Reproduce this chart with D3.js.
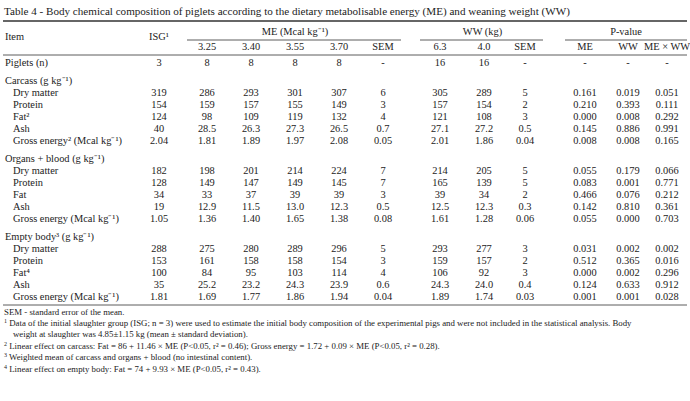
<!DOCTYPE html>
<html><head><meta charset="utf-8">
<script src="https://cdn.jsdelivr.net/npm/d3@7"></script>
<style>body{margin:0;background:#fff}text{font-family:"Liberation Serif","Times New Roman",serif;fill:#222}</style>
</head><body><svg id="c" width="690" height="401"></svg>
<script>
const title = "Table 4 - Body chemical composition of piglets according to the dietary metabolisable energy (ME) and weaning weight (WW)";
const columns = ["ISG","3.25","3.40","3.55","3.70","SEM","6.3","4.0","SEM","ME","WW","ME × WW"];
const groupHeaders = [["ME (Mcal kg⁻¹)",1,5],["WW (kg)",6,8],["P-value",9,11]];
const pigletsRow = ["3","8","8","8","8","-","16","16","-","-","-","-"];
const sections = ["Carcass (g kg⁻¹)","Organs + blood (g kg⁻¹)","Empty body³ (g kg⁻¹)"];
const carcassLabels = ["Dry matter","Protein","Fat²","Ash","Gross energy² (Mcal kg⁻¹)"];
const carcassValues = [
 ["319","286","293","301","307","6","305","289","5","0.161","0.019","0.051"],
 ["154","159","157","155","149","3","157","154","2","0.210","0.393","0.111"],
 ["124","98","109","119","132","4","121","108","3","0.000","0.008","0.292"],
 ["40","28.5","26.3","27.3","26.5","0.7","27.1","27.2","0.5","0.145","0.886","0.991"],
 ["2.04","1.81","1.89","1.97","2.08","0.05","2.01","1.86","0.04","0.008","0.008","0.165"]];
const organLabels = ["Dry matter","Protein","Fat","Ash","Gross energy (Mcal kg⁻¹)"];
const organValues = [
 ["182","198","201","214","224","7","214","205","5","0.055","0.179","0.066"],
 ["128","149","147","149","145","7","165","139","5","0.083","0.001","0.771"],
 ["34","33","37","39","39","3","39","34","2","0.466","0.076","0.212"],
 ["19","12.9","11.5","13.0","12.3","0.5","12.5","12.3","0.3","0.142","0.810","0.361"],
 ["1.05","1.36","1.40","1.65","1.38","0.08","1.61","1.28","0.06","0.055","0.000","0.703"]];
const emptyLabels = ["Dry matter","Protein","Fat⁴","Ash","Gross energy (Mcal kg⁻¹)"];
const emptyValues = [
 ["288","275","280","289","296","5","293","277","3","0.031","0.002","0.002"],
 ["153","161","158","158","154","3","159","157","2","0.512","0.365","0.016"],
 ["100","84","95","103","114","4","106","92","3","0.000","0.002","0.296"],
 ["35","25.2","23.2","24.3","23.9","0.6","24.3","24.0","0.4","0.124","0.633","0.912"],
 ["1.81","1.69","1.77","1.86","1.94","0.04","1.89","1.74","0.03","0.001","0.001","0.028"]];
const footnotes = [
 ["","SEM - standard error of the mean."],
 ["1","Data of the initial slaughter group (ISG; n = 3) were used to estimate the initial body composition of the experimental pigs and were not included in the statistical analysis. Body"],
 ["","weight at slaughter was 4.85±1.15 kg (mean ± standard deviation)."],
 ["2","Linear effect on carcass: Fat = 86 + 11.46 × ME (P<0.05, r² = 0.46); Gross energy = 1.72 + 0.09 × ME (P<0.05, r² = 0.28)."],
 ["3","Weighted mean of carcass and organs + blood (no intestinal content)."],
 ["4","Linear effect on empty body: Fat = 74 + 9.93 × ME (P<0.05, r² = 0.43)."]];

const svg = d3.select("#c");
const fs = 10.4;
const colX = d3.scaleOrdinal().domain(d3.range(12)).range([159,207,251,295,339,383,440,484,525,585,628,667]);
const rowY = d3.scaleLinear().domain([0,1]).range([0,12]);
const L = 3, R = 687;
const line = (x1,x2,y,w)=>svg.append("line").attr("x1",x1).attr("x2",x2).attr("y1",y).attr("y2",y).attr("stroke","#333").attr("stroke-width",w);
const txt = (x,y,s,anchor,size)=>svg.append("text").attr("x",x).attr("y",y).attr("text-anchor",anchor||"start").attr("font-size",size||fs).text(s);

txt(4,15,title,"start",11.1);
line(L,R,21,1.3);
txt(5,40,"Item");
txt(colX(0),40,"ISG¹","middle");
groupHeaders.forEach(([t,a,b])=>{
  txt((colX(a)+colX(b))/2,35,t,"middle");
  line(colX(a)-20,colX(b)+(b===11?20:18),40,0.8);
});
columns.slice(1).forEach((c,i)=>txt(colX(i+1),50,c,"middle"));
line(L,R,55,0.8);
txt(5,66,"Piglets (n)");
pigletsRow.forEach((v,i)=>txt(colX(i),66,v,"middle"));

const blocks = [[carcassLabels,carcassValues,84],[organLabels,organValues,162],[emptyLabels,emptyValues,240]];
blocks.forEach(([labs,vals,y0],k)=>{
  txt(5,y0,sections[k]);
  labs.forEach((lab,r)=>{
    const y = y0+rowY(r+1);
    txt(13,y,lab);
    vals[r].forEach((v,i)=>txt(colX(i),y,v,"middle"));
  });
});
line(L,R,305,0.8);
const fy = [315,326,337,349,360,372];
footnotes.forEach(([s,t],i)=>{
  const g = svg.append("text").attr("x",4).attr("y",fy[i]).attr("font-size",8.8);
  if(s){g.append("tspan").attr("font-size",6).attr("dy",-3).text(s);g.append("tspan").attr("dy",3).text(" "+t);}
  else g.attr("x",i==2?13:4).text(t);
});
</script></body></html>
